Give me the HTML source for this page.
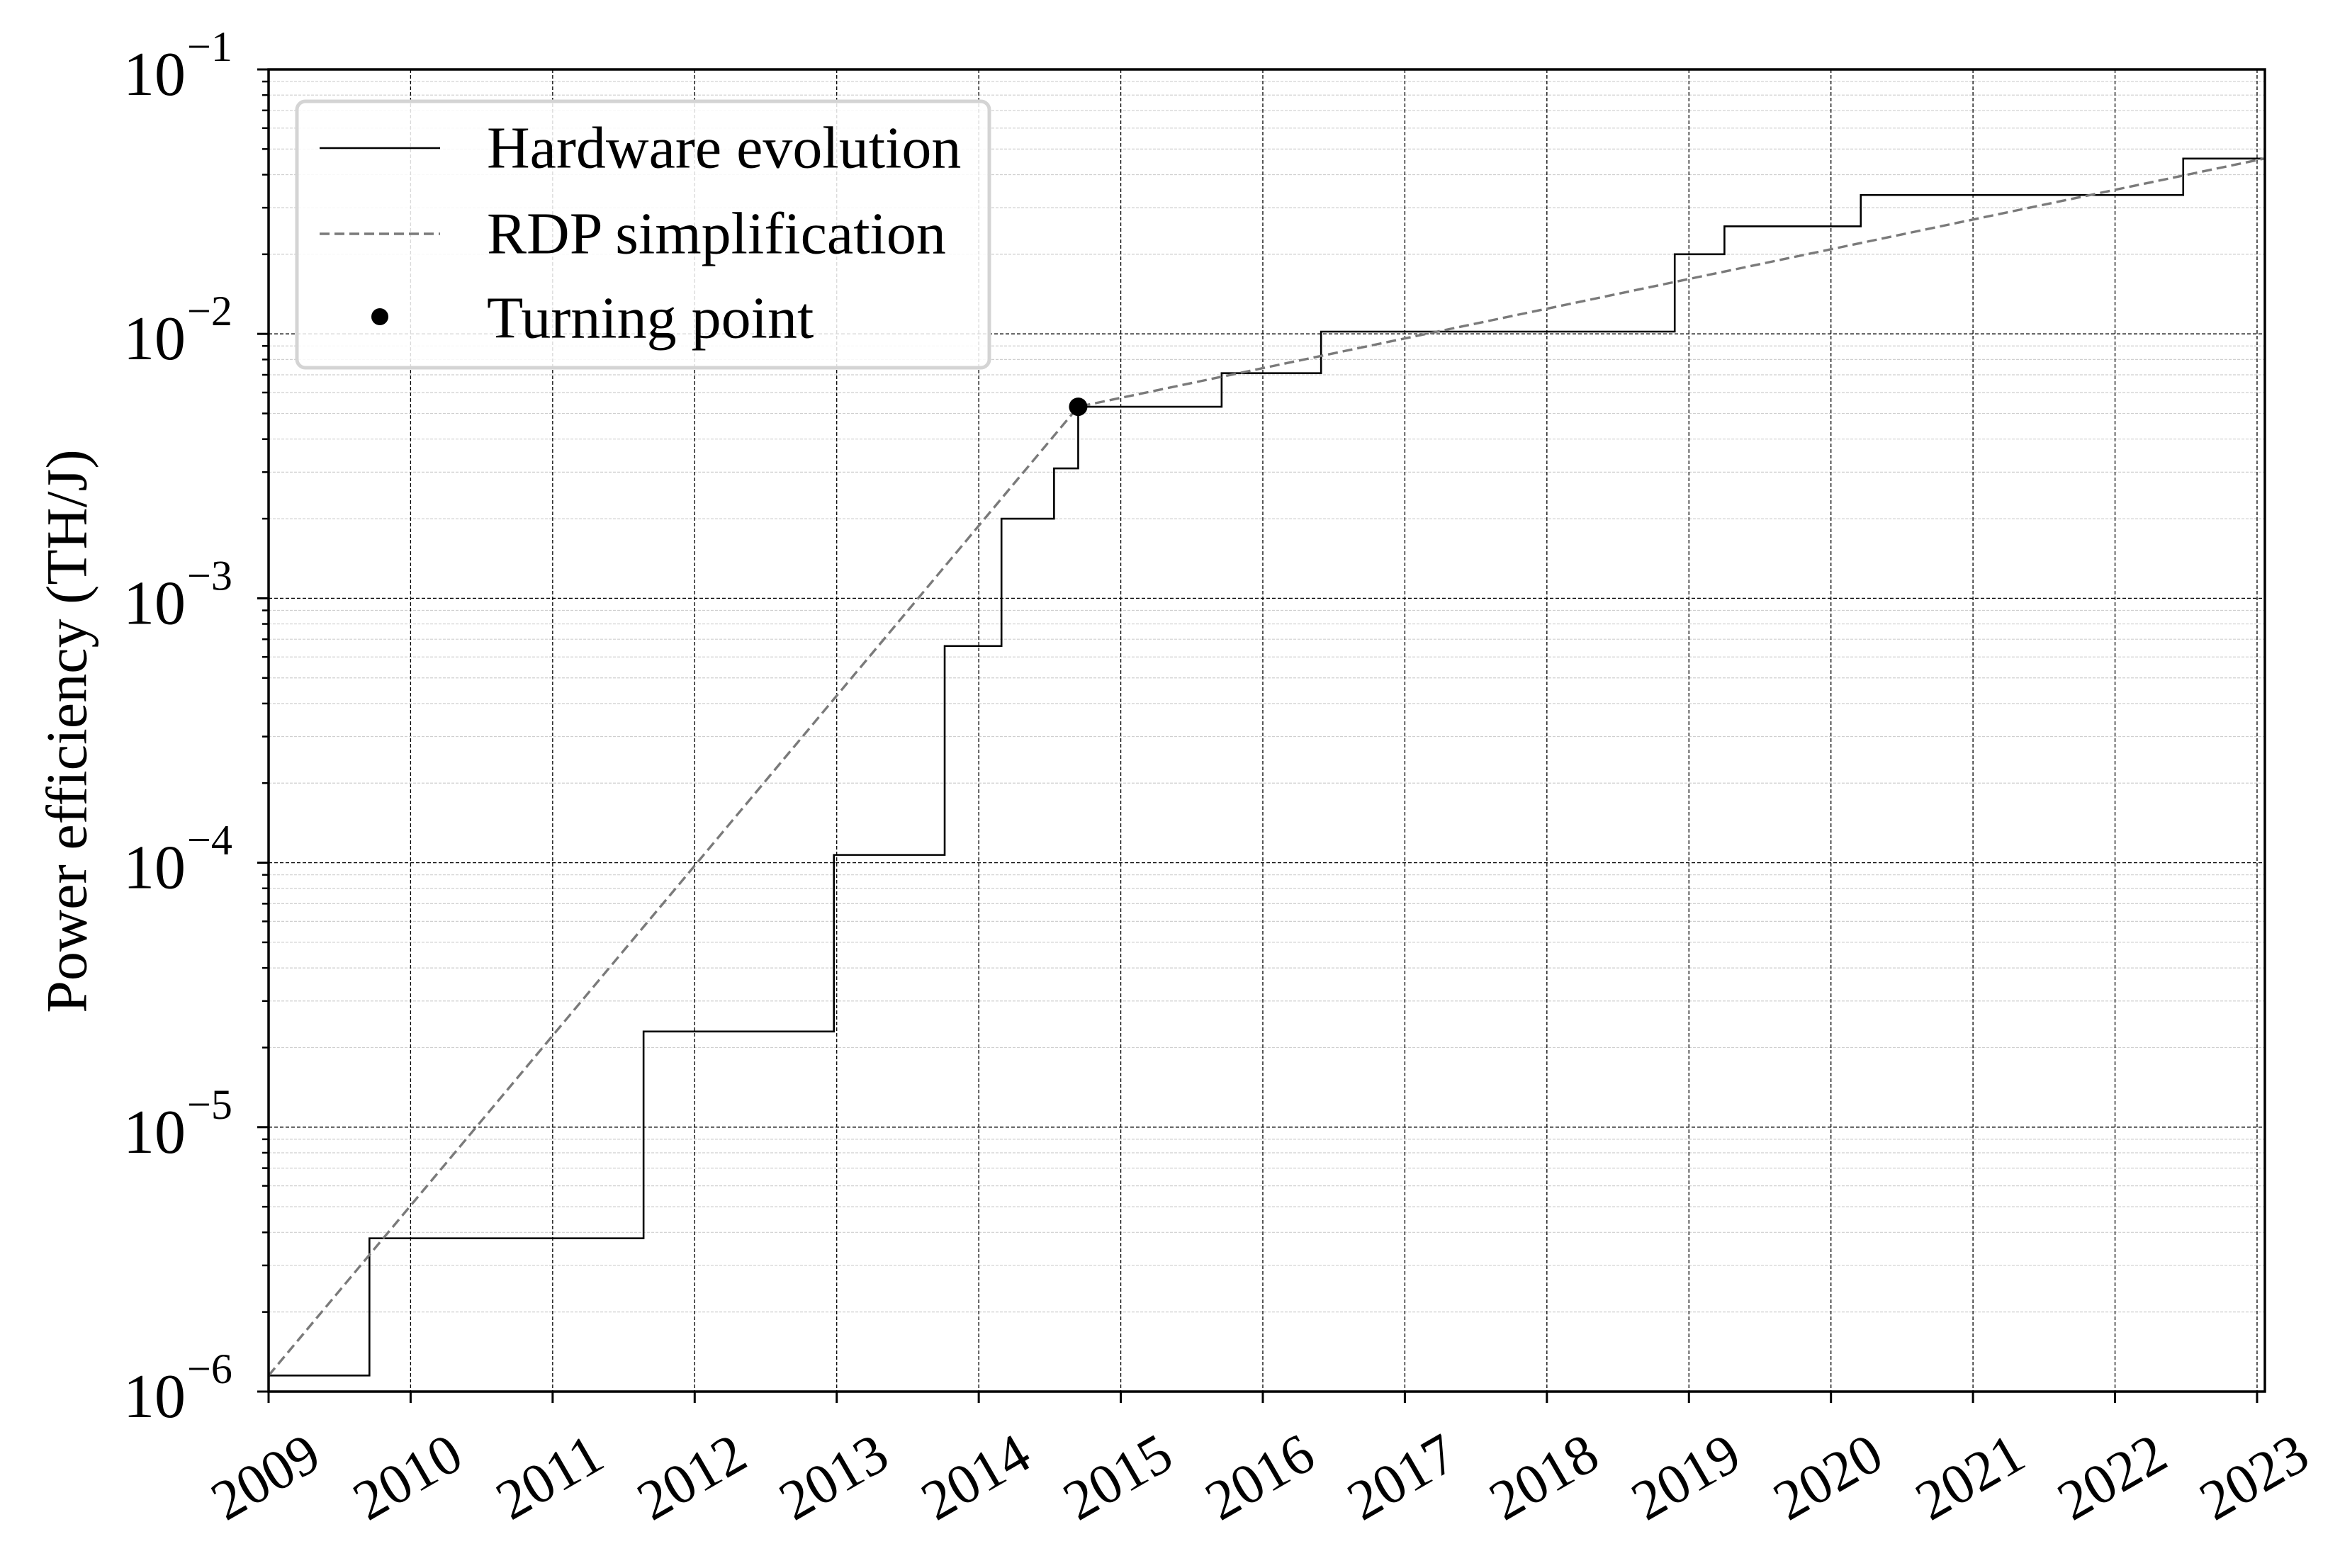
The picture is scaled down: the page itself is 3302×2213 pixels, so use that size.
<!DOCTYPE html>
<html><head><meta charset="utf-8"><style>
html,body{margin:0;padding:0;background:#fff;}
svg{display:block;font-family:"Liberation Serif",serif;}
</style></head><body>
<svg id="chart" width="3302" height="2213" viewBox="0 0 3302 2213" xmlns="http://www.w3.org/2000/svg">
<rect width="3302" height="2213" fill="#fff"/>
<g id="grid"></g>
<g id="series"></g>
<g id="axes"></g>
<g id="legend">
  <rect x="419" y="143" width="977" height="376" rx="12" fill="#fff" fill-opacity="0.85" stroke="#d4d4d4" stroke-width="5"/>
  <g>
    <line x1="451" y1="209" x2="621" y2="209" stroke="#000" stroke-width="2.4"/>
    <text x="687" y="209" font-size="84" dominant-baseline="central">Hardware evolution</text>
  </g>
  <g>
    <line x1="451" y1="330" x2="621" y2="330" stroke="#7a7a7a" stroke-width="3.4" stroke-dasharray="14,7"/>
    <text x="687" y="330" font-size="84" dominant-baseline="central">RDP simplification</text>
  </g>
  <g>
    <circle cx="536" cy="447" r="12" fill="#000"/>
    <text x="687" y="449" font-size="84" dominant-baseline="central">Turning point</text>
  </g>
</g>
<text x="0" y="0" font-size="82" text-anchor="middle" dominant-baseline="central" transform="translate(94,1032) rotate(-90)">Power efficiency (TH/J)</text>
</svg>
<script>
const years = [2009,2010,2011,2012,2013,2014,2015,2016,2017,2018,2019,2020,2021,2022,2023];
const decades = [-6,-5,-4,-3,-2,-1];
const hwX = [2009, 2009.71, 2011.64, 2012.98, 2013.76, 2014.16, 2014.53, 2014.70, 2015.71, 2016.41, 2018.90, 2019.25, 2020.21, 2022.48, 2023.05];
const hwY = [1.15e-6, 3.8e-6, 2.3e-5, 1.07e-4, 6.6e-4, 2.0e-3, 3.1e-3, 5.3e-3, 7.1e-3, 1.02e-2, 2.0e-2, 2.55e-2, 3.35e-2, 4.6e-2, 4.6e-2];
const rdpX = [2009, 2014.70, 2023.05];
const rdpY = [1.15e-6, 5.3e-3, 4.6e-2];
const turnX = [2014.70];
const turnY = [5.3e-3];

const L=379,R=3196,T=98,B=1964, X0=2009, X1=2023.055;
function xs(v){return L + (v-X0)/(X1-X0)*(R-L);}
function ys(v){return B - (Math.log10(v)+6)/5*(B-T);}
const NS="http://www.w3.org/2000/svg";
function mk(tag, parent, attrs){const e=document.createElementNS(NS,tag);for(const k in attrs)e.setAttribute(k,attrs[k]);parent.appendChild(e);return e;}
const grid=document.getElementById('grid'), series=document.getElementById('series'), axes=document.getElementById('axes');

for(let d=-6; d<-1; d++){
  for(let m=2;m<=9;m++){
    const y=ys(m*Math.pow(10,d));
    const g=mk('line',grid,{x1:L,x2:R,y1:y,y2:y,stroke:'#cfcfcf','stroke-width':1.2,'stroke-dasharray':'4,2'});
    
    
    const t=mk('line',axes,{x1:L-9,x2:L,y1:y,y2:y,stroke:'#000','stroke-width':2.5});
    
    
  }
}
decades.forEach(function(d){
  const y=ys(Math.pow(10,d));
  if(d>-6 && d<-1){
    const g=mk('line',grid,{x1:L,x2:R,y1:y,y2:y,stroke:'#000','stroke-width':1.3,'stroke-dasharray':'5,3'});
    
    
  }
  const t=mk('line',axes,{x1:L-16,x2:L,y1:y,y2:y,stroke:'#000','stroke-width':3});
  
  
  const tx=mk('text',axes,{x:262,y:y+36,'font-size':88,'text-anchor':'end'});
  
  
  tx.textContent='10';
  const sp=mk('text',axes,{x:264,y:y-12,'font-size':60,'text-anchor':'start'});
  
  
  sp.textContent='\u2212'+(-d);
});

years.forEach(function(yr){
  const x=xs(yr);
  if(yr>2009){
    const g=mk('line',grid,{x1:x,x2:x,y1:T,y2:B,stroke:'#000','stroke-width':1.3,'stroke-dasharray':'5,3'});
    
    
  }
  const t=mk('line',axes,{x1:x,x2:x,y1:B,y2:B+16,stroke:'#000','stroke-width':3});
  
  
  const tx=mk('text',axes,{x:0,y:0,'font-size':80,'text-anchor':'middle','dominant-baseline':'central',transform:'translate('+(x-4)+','+(B+121)+') rotate(-30)'});
  
  
  tx.textContent=String(yr);
});

let d='M'+xs(hwX[0])+','+ys(hwY[0]);
for(let i=1;i<hwX.length;i++){
  d+=' H'+xs(hwX[i])+' V'+ys(hwY[i]);
}
const hw=mk('path',series,{d:d,fill:'none',stroke:'#000','stroke-width':2.6});



const rd=mk('polyline',series,{points:rdpX.map(function(v,i){return xs(v)+','+ys(rdpY[i]);}).join(' '),fill:'none',stroke:'#7a7a7a','stroke-width':3.4,'stroke-dasharray':'14,7'});



turnX.forEach(function(v,i){
  const c=mk('circle',series,{cx:xs(v),cy:ys(turnY[i]),r:13,fill:'#000'});
  
  
});

const fr=mk('rect',axes,{x:L,y:T,width:R-L,height:B-T,fill:'none',stroke:'#000','stroke-width':3.5});


</script>
</body></html>
